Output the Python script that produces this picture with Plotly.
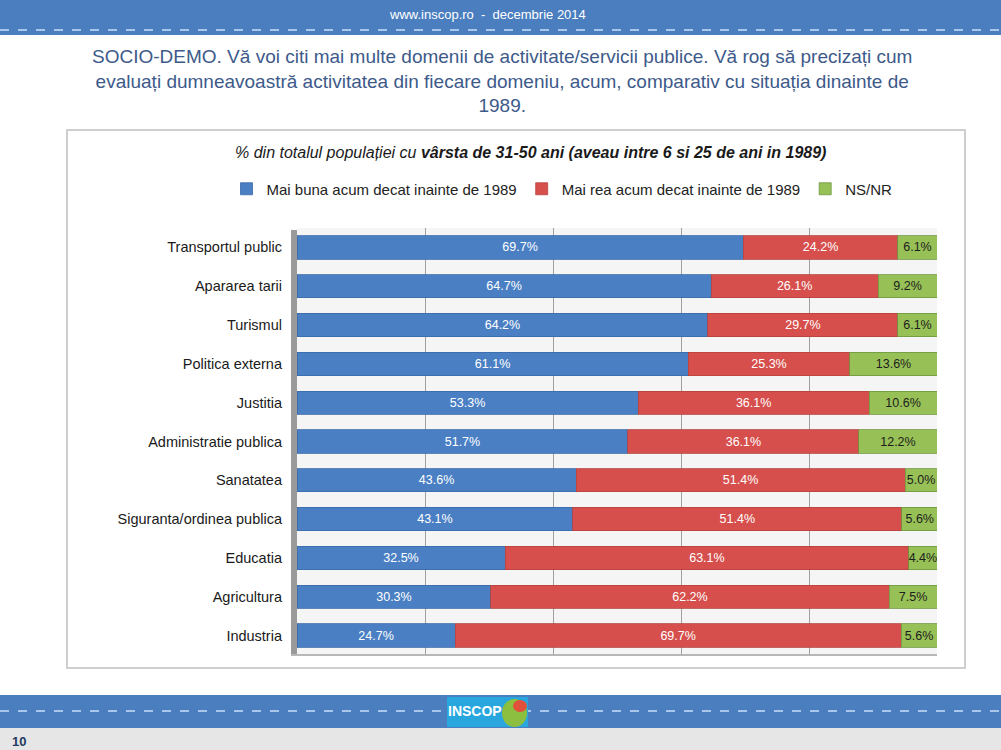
import plotly.graph_objects as go

# Chart values (top to bottom as in the slide)
categories = [
    "Transportul public", "Apararea tarii", "Turismul", "Politica externa",
    "Justitia", "Administratie publica", "Sanatatea",
    "Siguranta/ordinea publica", "Educatia", "Agricultura", "Industria",
]
better = [69.7, 64.7, 64.2, 61.1, 53.3, 51.7, 43.6, 43.1, 32.5, 30.3, 24.7]
worse = [24.2, 26.1, 29.7, 25.3, 36.1, 36.1, 51.4, 51.4, 63.1, 62.2, 69.7]
dk_nr = [6.1, 9.2, 6.1, 13.6, 10.6, 12.2, 5.0, 5.6, 4.4, 7.5, 5.6]

series_names = [
    "Mai buna acum decat inainte de 1989",
    "Mai rea acum decat inainte de 1989",
    "NS/NR",
]

W, H = 1001, 750
FONT = "Arial, Liberation Sans, sans-serif"
BLUE = "#4a7fc4"
RED = "#d64f4c"
GREEN = "#97c056"
BAND = "#4a7ebf"


def px(x):
    return x / W


def py(y):
    return 1 - y / H


fig = go.Figure()

series = [
    (better, series_names[0], BLUE, "#3a6aa8", "white"),
    (worse, series_names[1], RED, "#b54240", "white"),
    (dk_nr, series_names[2], GREEN, "#6f9640", "#1d1d1d"),
]
for values, name, color, edge, txt in series:
    fig.add_trace(
        go.Bar(
            y=categories,
            x=values,
            name=name,
            orientation="h",
            marker={"color": color, "line": {"color": edge, "width": 0.8}},
            texttemplate="%{x:.1f}%",
            textposition="inside",
            insidetextanchor="middle",
            textangle=0,
            textfont={"color": txt, "size": 12.5, "family": FONT},
            hoverinfo="x+name",
        )
    )

fig.update_layout(
    width=W,
    height=H,
    barmode="stack",
    bargap=0.4,
    margin={"l": 0, "r": 0, "t": 0, "b": 0},
    paper_bgcolor="white",
    plot_bgcolor="#f5f5f5",
    font={"family": FONT, "color": "#222222"},
    uniformtext={"minsize": 12.5, "mode": "show"},
    showlegend=True,
    legend={
        "orientation": "h",
        "x": px(562),
        "xanchor": "center",
        "y": py(189),
        "yanchor": "middle",
        "font": {"size": 15, "color": "#222222"},
        "bgcolor": "rgba(0,0,0,0)",
        "itemwidth": 30,
        "traceorder": "normal",
    },
    xaxis={
        "domain": [px(297), px(937)],
        "range": [0, 100],
        "showticklabels": False,
        "showgrid": True,
        "gridcolor": "#a0a0a0",
        "gridwidth": 1,
        "dtick": 20,
        "zeroline": False,
        "fixedrange": True,
    },
    yaxis={
        "domain": [py(655), py(228)],
        "categoryorder": "array",
        "categoryarray": categories[::-1],
        "tickfont": {"size": 14.5, "color": "#1a1a1a"},
        "ticklabelstandoff": 14,
        "showgrid": False,
        "fixedrange": True,
    },
)

shapes = [
    # header band
    dict(type="rect", xref="paper", yref="paper", x0=0, x1=1, y0=py(35), y1=1,
         fillcolor=BAND, line={"width": 0}, layer="below"),
    dict(type="line", xref="paper", yref="paper", x0=0, x1=1, y0=py(30), y1=py(30),
         line={"color": "#a9c6ec", "width": 2, "dash": "dash"}),
    # chart box
    dict(type="rect", xref="paper", yref="paper", x0=px(67), x1=px(965), y0=py(668), y1=py(130),
         line={"color": "#cfcfcf", "width": 2}, fillcolor="rgba(0,0,0,0)", layer="below"),
    # 3D wall on the left of the plot
    dict(type="rect", xref="paper", yref="paper", x0=px(291), x1=px(297), y0=py(655), y1=py(230),
         fillcolor="#9a9a9a", line={"width": 0}),
    # floor edge
    dict(type="line", xref="paper", yref="paper", x0=px(291), x1=px(937), y0=py(655), y1=py(655),
         line={"color": "#b8b8b8", "width": 2}),
    # footer band
    dict(type="rect", xref="paper", yref="paper", x0=0, x1=1, y0=py(728), y1=py(695),
         fillcolor=BAND, line={"width": 0}, layer="below"),
    dict(type="line", xref="paper", yref="paper", x0=0, x1=1, y0=py(711), y1=py(711),
         line={"color": "#a9c6ec", "width": 2, "dash": "dash"}),
    dict(type="rect", xref="paper", yref="paper", x0=0, x1=1, y0=0, y1=py(728),
         fillcolor="#e6e6e6", line={"width": 0}, layer="below"),
    # logo
    dict(type="rect", xref="paper", yref="paper", x0=px(447), x1=px(528), y0=py(727), y1=py(697),
         fillcolor="#2aa6de", line={"width": 0}),
    dict(type="circle", xref="paper", yref="paper", x0=px(502), x1=px(527), y0=py(727), y1=py(699),
         fillcolor="#8cbf3f", line={"width": 0}),
    dict(type="circle", xref="paper", yref="paper", x0=px(513), x1=px(527), y0=py(712), y1=py(700),
         fillcolor="#e0503a", line={"width": 0}),
]
fig.update_layout(shapes=shapes)

annotations = [
    dict(text="www.inscop.ro  -  decembrie 2014", x=px(487), y=py(14),
         font={"size": 13, "color": "white"}),
    dict(text="SOCIO-DEMO. Vă voi citi mai multe domenii de activitate/servicii publice. Vă rog să precizați cum"
              "<br>evaluați dumneavoastră activitatea din fiecare domeniu, acum, comparativ cu situația dinainte de"
              "<br>1989.",
         x=px(502), y=py(81), font={"size": 19, "color": "#3d5a8a"}),
    dict(text="<i>% din totalul populației cu <b>vârsta de 31-50 ani (aveau intre 6 si 25 de ani in 1989)</b></i>",
         x=px(530), y=py(152), font={"size": 16, "color": "#1a1a1a"}),
    dict(text="<b>INSCOP</b>", x=px(475), y=py(711), font={"size": 14, "color": "white"}),
    dict(text="<b>10</b>", x=px(10), y=py(741), xanchor="left",
         font={"size": 13, "color": "#1f3b63"}),
]
for a in annotations:
    a.setdefault("xanchor", "center")
    fig.add_annotation(xref="paper", yref="paper", yanchor="middle", showarrow=False, **a)

# remove the default page margin so the figure fills the window exactly
fig.write_html(
    "out.html",
    config={"displayModeBar": False},
    post_script="document.body.style.margin='0';document.body.style.overflow='hidden';",
)
